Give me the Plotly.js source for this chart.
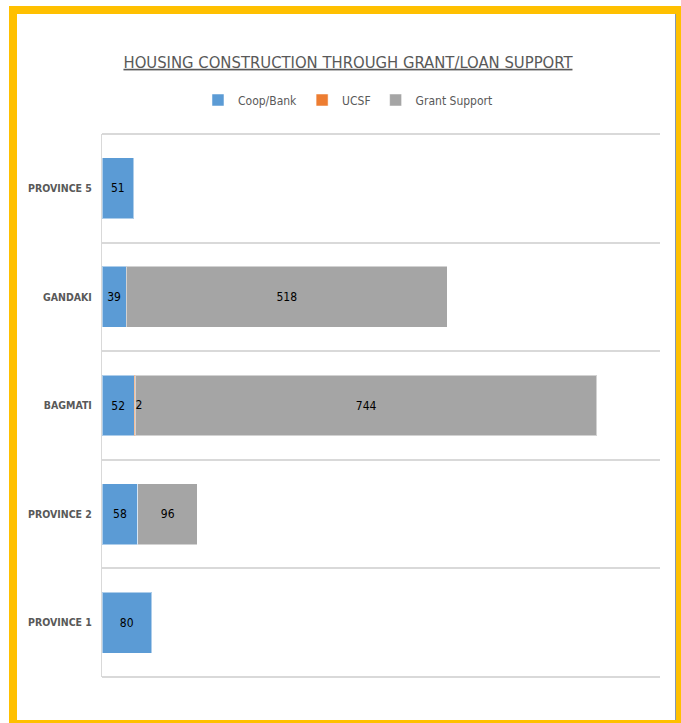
<!DOCTYPE html>
<html>
<head>
<meta charset="utf-8">
<script src="https://cdn.plot.ly/plotly-3.0.1.min.js"></script>
<style>
  html, body { margin: 0; padding: 0; background: #ffffff; width: 681px; height: 723px; overflow: hidden; }
  #frame { position: absolute; left: 9px; top: 6px; width: 659px; height: 706px; border: 8px solid #FFC000; background: #ffffff; box-shadow: inset -1px 0 0 #8497b0; }
  #chart { position: absolute; left: 0; top: 0; width: 681px; height: 723px; }
</style>
</head>
<body>
<div id="frame"></div>
<div id="chart"></div>
<script>
const categories = ['PROVINCE 1', 'PROVINCE 2', 'BAGMATI', 'GANDAKI', 'PROVINCE 5'];
const coopBank = [80, 58, 52, 39, 51];
const ucsf = [null, null, 2, null, null];
const grantSupport = [null, 96, 744, 518, null];
const seriesNames = ['Coop/Bank', 'UCSF', 'Grant Support'];
const seriesColors = ['#5B9BD5', '#ED7D31', '#A5A5A5'];

const condensed = '"DejaVu Sans Condensed", "Liberation Sans Narrow", sans-serif';
const values = [coopBank, ucsf, grantSupport];

const traces = values.map((v, i) => ({
  type: 'bar',
  orientation: 'h',
  name: seriesNames[i],
  y: categories,
  x: v,
  marker: { color: seriesColors[i], line: { color: 'rgba(255,255,255,0.5)', width: 1 } },
  texttemplate: i === 1 ? '' : '%{x}',
  textposition: 'inside',
  insidetextanchor: 'middle',
  constraintext: 'none',
  textfont: { family: condensed, size: 12, color: '#000000' },
  hoverinfo: 'x+name'
}));

// UCSF labels sit just to the right of the thin UCSF segment (drawn above the bars)
const ucsfLabelX = ucsf.map((u, k) => (u == null ? null : coopBank[k] + u));
traces.push({
  type: 'scatter',
  mode: 'text',
  y: categories,
  x: ucsfLabelX,
  text: ucsf.map(u => (u == null ? '' : String(u))),
  textposition: 'middle right',
  textfont: { family: condensed, size: 12, color: '#000000' },
  showlegend: false,
  hoverinfo: 'skip'
});

const layout = {
  width: 681,
  height: 723,
  paper_bgcolor: 'rgba(0,0,0,0)',
  plot_bgcolor: 'rgba(0,0,0,0)',
  barmode: 'stack',
  bargap: 0.44,
  margin: { l: 102, r: 21, t: 134, b: 46 },
  title: {
    text: '<u>HOUSING CONSTRUCTION THROUGH GRANT/LOAN SUPPORT</u>',
    font: { family: condensed, size: 16.5, color: '#595959' },
    x: 0.511, xanchor: 'center', xref: 'container',
    y: 1 - 62 / 723, yanchor: 'middle', yref: 'container'
  },
  legend: {
    orientation: 'h',
    xref: 'container', yref: 'container',
    x: 0.511, xanchor: 'center',
    y: 1 - 100 / 723, yanchor: 'middle',
    font: { family: condensed, size: 12, color: '#595959' },
    traceorder: 'normal',
    itemwidth: 30
  },
  xaxis: {
    range: [0, 900],
    showgrid: false,
    zeroline: false,
    showticklabels: false,
    showline: false,
    fixedrange: true
  },
  yaxis: {
    type: 'category',
    categoryorder: 'array',
    categoryarray: categories,
    tickson: 'boundaries',
    showgrid: true,
    gridcolor: '#d9d9d9',
    gridwidth: 2,
    showline: true,
    linecolor: '#d9d9d9',
    linewidth: 1,
    ticks: '',
    ticklabelstandoff: 7,
    tickfont: { family: condensed, size: 10.5, color: '#595959', weight: 'bold' },
    fixedrange: true
  },
  shapes: [
    { type: 'line', xref: 'paper', yref: 'paper', x0: 0, x1: 1, y0: 1, y1: 1, line: { color: '#d9d9d9', width: 2 } },
    { type: 'line', xref: 'paper', yref: 'paper', x0: 0, x1: 1, y0: 0, y1: 0, line: { color: '#d9d9d9', width: 2 } }
  ]
};

Plotly.newPlot('chart', traces, layout, { displayModeBar: false, staticPlot: true });
</script>
</body>
</html>
